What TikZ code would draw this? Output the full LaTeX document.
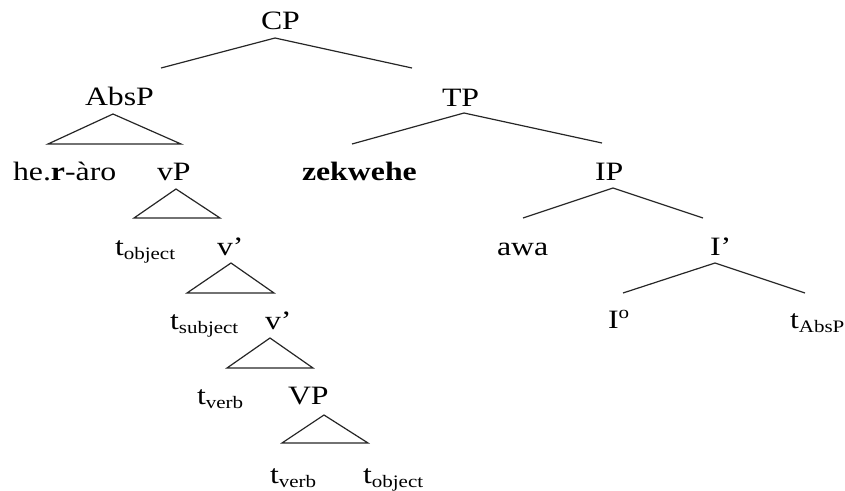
\documentclass[tikz,border=0pt]{standalone}
\usepackage{fontspec}
\setmainfont{Liberation Serif}[FakeStretch=1.2]
\newcommand{\mainsz}{\fontsize{26.5}{26.5}\selectfont}
\newcommand{\subsz}{\fontsize{17.5}{17.5}\selectfont}
\newcommand{\tsub}[1]{t\raisebox{-4pt}{\subsz #1}}
\begin{document}
\begin{tikzpicture}[x=1pt,y=-1pt,
  lbl/.style={anchor=base west,inner sep=0pt,outer sep=0pt,font=\mainsz,text=black},
  edge/.style={draw=black!85,line width=1.2pt,line join=miter}]
\useasboundingbox (0,0) rectangle (845,490);
% labels
\node[lbl] (cp) at (261,29) {CP};
\node[lbl] (absp) at (85,105) {AbsP};
\node[lbl] (tp) at (442,106) {TP};
\node[lbl] (hero) at (13,180) {he.\textbf{r}-àro};
\node[lbl] (vp) at (157,180) {vP};
\node[lbl] (zek) at (302,180) {\textbf{zekwehe}};
\node[lbl] (ip) at (595,180) {IP};
\node[lbl] (tobj1) at (115,255) {\tsub{object}};
\node[lbl] (vbar1) at (217,255) {v’};
\node[lbl] (awa) at (497,255) {awa};
\node[lbl] (ibar) at (710,255) {I’};
\node[lbl] (tsubj) at (170,329) {\tsub{subject}};
\node[lbl] (vbar2) at (265,329) {v’};
\node[lbl] (izero) at (608,328) {I\raisebox{10pt}{\subsz o}};
\node[lbl] (tabsp) at (790,328) {\tsub{AbsP}};
\node[lbl] (tverb1) at (197,404) {\tsub{verb}};
\node[lbl] (vpbig) at (288,404) {VP};
\node[lbl] (tverb2) at (270,483) {\tsub{verb}};
\node[lbl] (tobj2) at (363,483) {\tsub{object}};
% branch points
\coordinate (cpA) at (275,38);
\coordinate (cpL) at (161,68);
\coordinate (cpR) at (412,68);
\coordinate (tpA) at (464,113);
\coordinate (tpL) at (352,144);
\coordinate (tpR) at (602,143);
\coordinate (ipA) at (613,188);
\coordinate (ipL) at (523,218);
\coordinate (ipR) at (703,218);
\coordinate (ibA) at (715,263);
\coordinate (ibL) at (623,293);
\coordinate (ibR) at (805,293);
\coordinate (abA) at (113,114);
\coordinate (abL) at (48,144);
\coordinate (abR) at (181,144);
\coordinate (vpA) at (176,189);
\coordinate (vpL) at (134,218);
\coordinate (vpR) at (220,218);
\coordinate (v1A) at (231,263);
\coordinate (v1L) at (187,293);
\coordinate (v1R) at (274,293);
\coordinate (v2A) at (270,338);
\coordinate (v2L) at (227,368);
\coordinate (v2R) at (313,368);
\coordinate (VPA) at (324,415);
\coordinate (VPL) at (282,443);
\coordinate (VPR) at (368,443);
% branches
\draw[edge] (cpL) -- (cpA) -- (cpR);
\draw[edge] (tpL) -- (tpA) -- (tpR);
\draw[edge] (ipL) -- (ipA) -- (ipR);
\draw[edge] (ibL) -- (ibA) -- (ibR);
% triangles
\draw[edge] (abA) -- (abL) -- (abR) -- cycle;
\draw[edge] (vpA) -- (vpL) -- (vpR) -- cycle;
\draw[edge] (v1A) -- (v1L) -- (v1R) -- cycle;
\draw[edge] (v2A) -- (v2L) -- (v2R) -- cycle;
\draw[edge] (VPA) -- (VPL) -- (VPR) -- cycle;
\end{tikzpicture}
\end{document}
